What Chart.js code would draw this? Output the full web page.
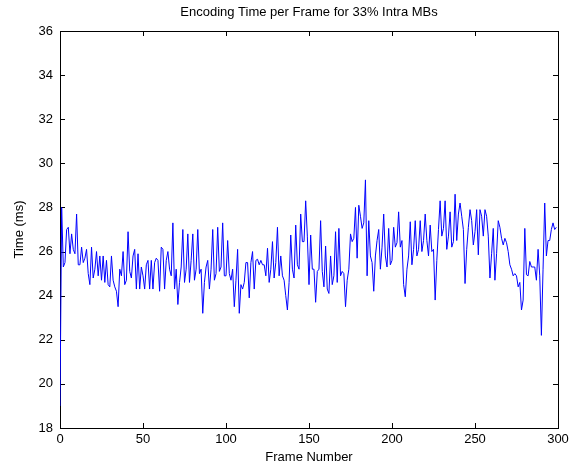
<!DOCTYPE html>
<html>
<head>
<meta charset="utf-8">
<title>Encoding Time per Frame</title>
<script src="https://cdn.jsdelivr.net/npm/chart.js@4.4.1/dist/chart.umd.min.js"></script>
<style>
    body { margin: 0; background: #fff; }
    canvas { display: block; }
</style>
</head>
<body>
<canvas id="timeChart" width="571" height="467"></canvas>
<script>
// Temps d'encodage (ms) par image, images 0 à 299
const encodeTimes = [
    19.0, 28.0, 25.3, 25.5, 27.0, 27.1, 25.9, 26.8, 26.1, 25.9,
    27.7, 25.4, 25.4, 26.2, 25.5, 25.7, 26.1, 25.0, 24.5, 26.2,
    24.8, 25.2, 26.0, 24.9, 25.8, 24.7, 25.8, 24.6, 25.6, 24.5,
    24.4, 25.8, 24.7, 24.4, 24.2, 23.5, 25.2, 24.9, 26.0, 24.5,
    24.7, 26.9, 25.1, 24.8, 25.8, 26.1, 24.3, 25.9, 24.3, 25.3,
    24.9, 24.3, 25.4, 25.6, 24.3, 25.6, 24.3, 25.5, 25.7, 25.6,
    24.2, 26.2, 26.1, 24.3, 25.6, 26.0, 25.2, 24.9, 27.3, 24.3,
    25.2, 23.6, 24.6, 25.3, 27.0, 24.6, 25.2, 26.8, 24.6, 25.6,
    26.8, 24.7, 25.2, 27.0, 25.0, 25.2, 23.2, 24.6, 25.3, 25.6,
    24.3, 25.2, 27.0, 24.7, 25.0, 27.1, 25.1, 25.3, 27.3, 24.9,
    24.9, 26.5, 25.0, 24.7, 25.2, 23.5, 24.7, 26.1, 23.2, 24.5,
    24.3, 24.6, 25.5, 25.5, 23.9, 25.5, 26.0, 24.3, 25.6, 25.65,
    25.4, 25.6, 25.4, 25.4, 24.9, 26.15, 24.6, 25.2, 26.45, 24.8,
    25.5, 27.1, 24.9, 25.8, 24.9, 24.7, 24.0, 23.35, 24.6, 26.75,
    25.2, 24.8, 27.2, 25.4, 25.2, 27.7, 26.45, 26.45, 28.3, 26.7,
    24.5, 26.75, 25.2, 25.2, 23.7, 25.1, 25.2, 27.4, 25.1, 24.4,
    26.25, 24.3, 24.1, 25.8, 24.5, 24.9, 26.9, 24.6, 27.05, 24.9,
    25.1, 25.0, 23.5, 24.7, 25.2, 26.8, 26.45, 26.6, 28.0, 25.7,
    28.1, 27.6, 27.05, 27.3, 29.25, 24.9, 27.4, 25.8, 25.5, 24.2,
    25.8, 26.5, 27.0, 25.2, 26.2, 27.7, 25.8, 25.3, 27.05, 25.4,
    25.6, 27.1, 26.2, 26.4, 27.8, 26.2, 26.5, 24.5, 23.95, 25.2,
    25.8, 27.35, 25.4, 26.1, 27.4, 25.8, 26.1, 27.4, 26.0, 26.5,
    27.7, 26.5, 25.8, 27.2, 26.0, 26.1, 23.8, 25.6, 27.0, 28.3,
    26.7, 27.05, 28.3, 26.1, 26.7, 27.8, 26.2, 26.45, 28.6, 26.5,
    27.7, 28.2, 27.6, 27.0, 24.55, 26.1, 27.1, 27.9, 27.4, 26.3,
    26.9, 27.9, 25.85, 27.9, 27.6, 26.7, 27.9, 27.6, 26.7, 24.8,
    25.9, 27.05, 24.7, 25.9, 27.4, 27.1, 26.6, 26.3, 26.6, 26.4,
    26.0, 25.4, 25.2, 24.9, 25.0, 24.9, 24.4, 24.6, 23.35, 23.8,
    27.05, 24.95, 24.9, 25.55, 25.3, 25.3, 25.3, 24.7, 26.1, 24.9,
    22.2, 25.2, 28.2, 25.8, 26.5, 26.5, 27.0, 27.3, 27.0, 27.1
];

// Graduations des axes
const xTicks = [0, 50, 100, 150, 200, 250, 300];
const yTicks = [18, 20, 22, 24, 26, 28, 30, 32, 34, 36];

const chartTitle = 'Encoding Time per Frame for 33% Intra MBs';
const xLabel = 'Frame Number';
const yLabel = 'Time (ms)';

const fontFamily = '"Liberation Sans", Arial, Helvetica, sans-serif';

// Cadre noir + petites graduations vers l'intérieur (dessinés sous la courbe)
const boxPlugin = {
    id: 'boxTicks',
    beforeDatasetsDraw(chart) {
        const ctx = chart.ctx;
        const area = chart.chartArea;
        const xs = chart.scales.x;
        const ys = chart.scales.y;
        const len = 5;
        ctx.save();
        ctx.strokeStyle = '#000';
        ctx.lineWidth = 1;
        ctx.beginPath();
        xTicks.forEach(function(v) {
            const px = Math.round(xs.getPixelForValue(v)) + 0.5;
            ctx.moveTo(px, area.bottom);
            ctx.lineTo(px, area.bottom - len);
            ctx.moveTo(px, area.top);
            ctx.lineTo(px, area.top + len);
        });
        yTicks.forEach(function(v) {
            const py = Math.round(ys.getPixelForValue(v)) + 0.5;
            ctx.moveTo(area.left, py);
            ctx.lineTo(area.left + len, py);
            ctx.moveTo(area.right, py);
            ctx.lineTo(area.right - len, py);
        });
        ctx.stroke();
        ctx.strokeRect(Math.round(area.left) + 0.5, Math.round(area.top) + 0.5,
            Math.round(area.right - area.left), Math.round(area.bottom - area.top));
        ctx.restore();
    },
    afterDraw(chart) {
        // Titre centré sur la zone du graphique
        const ctx = chart.ctx;
        const area = chart.chartArea;
        ctx.save();
        ctx.fillStyle = '#000';
        ctx.font = '13px ' + fontFamily;
        ctx.textAlign = 'center';
        ctx.textBaseline = 'middle';
        ctx.fillText(chartTitle, (area.left + area.right) / 2, 12);
        ctx.restore();
    }
};

const ctx = document.getElementById('timeChart').getContext('2d');

new Chart(ctx, {
    type: 'line',
    data: {
        datasets: [{
            label: yLabel,
            data: encodeTimes.map(function(t, i) { return { x: i, y: t }; }),
            borderColor: '#0000ff',
            borderWidth: 1,
            pointRadius: 0,
            tension: 0,
            fill: false
        }]
    },
    options: {
        responsive: false,
        animation: false,
        devicePixelRatio: 1,
        layout: {
            padding: { top: 31, right: 13, bottom: 0, left: 0 }
        },
        plugins: {
            legend: { display: false },
            tooltip: { enabled: false }
        },
        scales: {
            x: {
                type: 'linear',
                min: 0,
                max: 300,
                afterBuildTicks: function(scale) {
                    scale.ticks = xTicks.map(function(v) { return { value: v }; });
                },
                afterFit: function(scale) {
                    scale.height = 39;
                    scale.paddingLeft = 0;
                    scale.paddingRight = 0;
                },
                grid: { display: false, drawTicks: false },
                border: { display: false },
                ticks: {
                    color: '#000',
                    padding: 4,
                    maxRotation: 0,
                    font: { family: fontFamily, size: 13 }
                },
                title: {
                    display: true,
                    text: xLabel,
                    color: '#000',
                    padding: { top: 0, bottom: 2 },
                    font: { family: fontFamily, size: 13 }
                }
            },
            y: {
                min: 18,
                max: 36,
                afterBuildTicks: function(scale) {
                    scale.ticks = yTicks.map(function(v) { return { value: v }; });
                },
                afterFit: function(scale) {
                    scale.width = 60;
                    scale.paddingTop = 0;
                    scale.paddingBottom = 0;
                },
                grid: { display: false, drawTicks: false },
                border: { display: false },
                ticks: {
                    color: '#000',
                    padding: 7,
                    font: { family: fontFamily, size: 13 }
                },
                title: {
                    display: true,
                    text: yLabel,
                    color: '#000',
                    padding: { top: 12, bottom: 0 },
                    font: { family: fontFamily, size: 13 }
                }
            }
        }
    },
    plugins: [boxPlugin]
});
</script>
</body>
</html>
